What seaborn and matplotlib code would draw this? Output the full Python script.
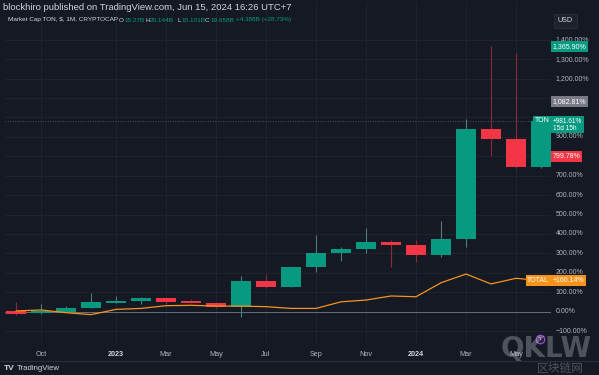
import matplotlib
matplotlib.use("Agg")
import matplotlib.pyplot as plt
import seaborn as sns
import numpy as np
import pandas as pd

# Du lieu doc tu hinh (don vi: % so voi nen dau)
months = ["2022-09", "2022-10", "2022-11", "2022-12", "2023-01", "2023-02", "2023-03",
          "2023-04", "2023-05", "2023-06", "2023-07", "2023-08", "2023-09", "2023-10",
          "2023-11", "2023-12", "2024-01", "2024-02", "2024-03", "2024-04", "2024-05", "2024-06"]
opens = [4, -7, -2, 19, 46, 56, 72, 55, 45, 26, 159, 127, 230, 302, 322, 358, 343, 292, 374, 939, 889, 743]
highs = [50, 39, 29, 96, 81, 77, 75, 65, 50, 185, 193, 230, 395, 332, 430, 368, 370, 467, 990, 1369, 1333, 985]
lows = [-17, -10, -4, 17, 45, 40, 40, 43, 20, -29, 121, 125, 204, 260, 302, 230, 256, 281, 332, 803, 740, 738]
closes = [-12, 4, 19, 50, 56, 70, 52, 45, 24, 159, 125, 230, 302, 322, 358, 343, 292, 374, 939, 889, 743, 981.61]
total = [4, 9, -5, -15, 12, 17, 31, 33, 29, 29, 26, 17, 17, 51, 60, 81, 77, 149, 194, 143, 172, 160.14]

tick_pos = [1, 4, 6, 8, 10, 12, 14, 16, 18, 20]
tick_labels = ["Oct", "2023", "Mar", "May", "Jul", "Sep", "Nov", "2024", "Mar", "May"]
y_ticks = list(range(-100, 1500, 100))

BG = "#151924"
GRID = "#1f2430"
TXT = "#b2b5be"
GREEN = "#089981"
RED = "#f23645"
ORANGE = "#f7931a"

sns.set_theme(style="dark", rc={"axes.facecolor": BG, "figure.facecolor": BG})
plt.rcParams["font.family"] = ["Liberation Sans", "DejaVu Sans"]

df = pd.DataFrame({"month": months, "open": opens, "high": highs, "low": lows,
                   "close": closes, "total": total})
df["x"] = np.arange(len(df))
df["up"] = df["close"] >= df["open"]

W, H = 599, 375
fig = plt.figure(figsize=(W / 100, H / 100), dpi=100)
ax = fig.add_axes([5 / W, 1 - 343 / H, 546 / W, 341 / H])
ax.set_xlim(-0.44, 21.4)
ax.set_ylim(-161, 1594)

# luoi
for t in tick_pos:
    ax.axvline(t, color=GRID, lw=0.7, zorder=0)
for v in y_ticks:
    ax.axhline(v, color=GRID, lw=0.7, zorder=0)
ax.axhline(0, color="#6a6d78", lw=0.7, zorder=1)
ax.axhline(closes[-1], color="#5d606b", lw=0.6, ls=(0, (1, 2)), zorder=1)

# nen
for _, r in df.iterrows():
    col = GREEN if r["up"] else RED
    wick = "#4e7f77" if r["up"] else "#8a2c38"
    ax.vlines(r["x"], r["low"], r["high"], color=wick, lw=0.8, zorder=2)
    lo, hi = min(r["open"], r["close"]), max(r["open"], r["close"])
    ax.bar(r["x"], hi - lo, bottom=lo, width=0.78, color=col, zorder=3, linewidth=0)

# duong TOTAL
sns.lineplot(data=df, x="x", y="total", ax=ax, color=ORANGE, lw=0.9, zorder=4)

ax.set_xticks([])
ax.set_yticks([])
ax.set_xlabel("")
ax.set_ylabel("")
for s in ax.spines.values():
    s.set_visible(False)

# nhan truc x
for p, lab in zip(tick_pos, tick_labels):
    bold = lab in ("2023", "2024")
    ax.text(p, -0.022, lab, transform=ax.get_xaxis_transform(), ha="center", va="top",
            fontsize=5.2, color="#d1d4dc" if bold else TXT,
            fontweight="bold" if bold else "normal", clip_on=False)

# nhan truc y
hidden = {800, 1000, 1100}
for v in y_ticks:
    if v in hidden:
        continue
    ax.text(1.009, v, f"{v:,.2f}%".replace("-", "\u2212"), transform=ax.get_yaxis_transform(),
            ha="left", va="center", fontsize=5, color=TXT, clip_on=False)


def tag(y, s, fc, tc="white", x=1.003, ha="left", fs=5, **kw):
    ax.text(x, y, s, transform=ax.get_yaxis_transform(), ha=ha, va="center",
            fontsize=fs, color=tc, clip_on=False, zorder=6,
            bbox=dict(boxstyle="square,pad=0.25", fc=fc, ec="none"), **kw)


tag(1365.90, "1,365.90%", GREEN)
tag(1082.81, "1,082.81%", "#787b86")
tag(962, "+981.61%\n15d 15h", GREEN, fs=4.7, linespacing=0.95)
tag(closes[-1], "TON", GREEN, x=0.997, ha="right")
tag(799.78, "799.78%", RED)
tag(total[-1], "+160.14%", ORANGE)
tag(total[-1], "TOTAL", ORANGE, x=0.997, ha="right")

# USD
fig.text(558 / W, 1 - 21 / H, "USD", fontsize=5.2, color="#d1d4dc", va="center",
         bbox=dict(boxstyle="square,pad=0.5", fc="#1e222d", ec="#2a2e39", lw=0.6))

# tieu de
fig.text(3 / W, 1 - 7 / H, "blockhiro published on TradingView.com, Jun 15, 2024 16:26 UTC+7",
         fontsize=6.8, color="#d1d4dc", va="center")
parts = [(8, "Market Cap TON, $, 1M, CRYPTOCAP", "#d1d4dc"), (119, "O", "#d1d4dc"),
         (124, "15.27B", GREEN), (145, "H", "#d1d4dc"), (150, "20.144B", GREEN),
         (177, "L", "#d1d4dc"), (181, "15.101B", GREEN), (205, "C", "#d1d4dc"),
         (210, "19.658B", GREEN), (236, "+4.388B (+28.73%)", GREEN)]
for px, s, c in parts:
    fig.text(px / W, 1 - 20 / H, s, fontsize=4.6, color=c, va="center")

# day duoi
fig.add_artist(plt.Line2D([0, 1], [1 - 361 / H] * 2, color="#2a2e39", lw=0.8))
fig.text(4 / W, 1 - 368 / H, "TV", fontsize=6, color="#d1d4dc", fontweight="bold", va="center")
fig.text(17 / W, 1 - 368 / H, "TradingView", fontsize=5.6, color="#d1d4dc", va="center")

# bieu tuong
ax.scatter([20.96], [-138], s=38, facecolor="#2a1f3a", edgecolor="#9c4fd6", lw=0.8, zorder=6,
           clip_on=False)
ax.text(20.96, -138, "\u03df", fontsize=5, color="#c77dff", ha="center", va="center", zorder=7,
        clip_on=False)

# watermark
fig.text(546 / W, 1 - 349 / H, "QKLW", fontsize=20, color="white", alpha=0.25,
         fontweight="bold", ha="center", va="center", family="DejaVu Sans")
fig.text(560 / W, 1 - 368.5 / H, "区块链网", fontsize=8.5, color="white", alpha=0.25,
         ha="center", va="center", family=["Noto Sans CJK SC", "DejaVu Sans"])

fig.savefig("out.png", dpi=100, facecolor=BG)
